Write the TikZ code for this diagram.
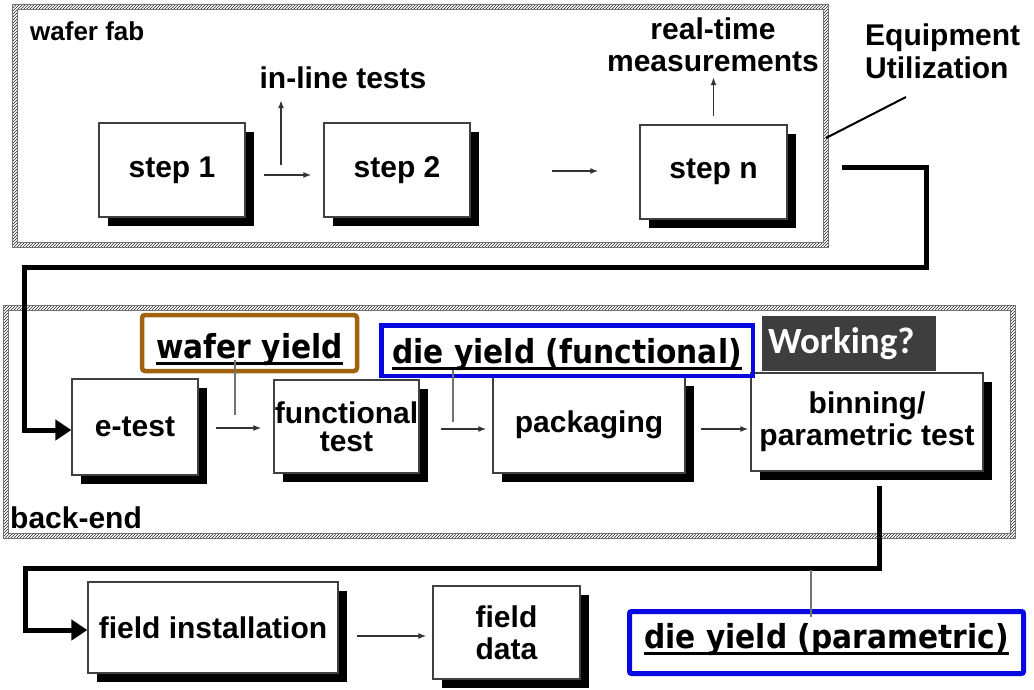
\documentclass[tikz,border=0pt]{standalone}
\usepackage{fontspec}
\setmainfont{Liberation Sans}
\newfontfamily\yieldfont[FakeStretch=0.9]{DejaVu Sans}
\newfontfamily\askfont{Carlito}
\usetikzlibrary{arrows.meta,shadows,patterns}

\definecolor{waferbrown}{RGB}{160,98,12}
\definecolor{yieldblue}{RGB}{8,8,225}
\definecolor{askgray}{RGB}{62,62,62}

% underlined yield label, thick rule under the baseline
\newsavebox{\ulbox}
\newcommand{\yieldul}[1]{\sbox{\ulbox}{#1}\rlap{\rule[-7pt]{\wd\ulbox}{3pt}}\usebox{\ulbox}}

\tikzset{
    procbox/.style={draw=black!75, line width=1.2pt, fill=white, align=center, inner sep=0pt,
        drop shadow={shadow xshift=9pt, shadow yshift=-9pt, fill=black, opacity=1}},
    frame/.style={inner sep=0pt, outer sep=0pt},
    flow/.style={draw=black!80, line width=1.5pt, -{Latex[length=8pt,width=6pt]}},
    bigflow/.style={line width=5pt, -{Triangle[length=16pt,width=20pt]}},
    leader/.style={draw=black!55, line width=1.5pt},
    yieldbox/.style={line width=4.5pt, inner sep=0pt,
        font=\yieldfont\bfseries\fontsize{33}{36}\selectfont},
}

\begin{document}
\begin{tikzpicture}[x=1pt,y=-1pt,font=\fontsize{30}{32}\selectfont\bfseries]
    \path[use as bounding box, fill=white] (0,0) rectangle (1034,690);

    % Hatched frame macro:
    % #1 = node name of the frame
    \newcommand{\hatchframe}[1]{%
        \fill[pattern=north east lines, pattern color=black!85, even odd rule]
            (#1.north west) rectangle (#1.south east)
            ([shift={(5,5)}]#1.north west) rectangle ([shift={(-5,-5)}]#1.south east);
        \draw[black!55, line width=0.8pt] (#1.north west) rectangle (#1.south east);
        \draw[black!55, line width=0.8pt]
            ([shift={(5,5)}]#1.north west) rectangle ([shift={(-5,-5)}]#1.south east);
    }

    % frames
    \node[frame, minimum width=816pt, minimum height=243pt] (fab) at (420,125.5) {};
    \node[frame, minimum width=1012pt, minimum height=233pt] (back) at (509,421.5) {};
    \hatchframe{fab}
    \hatchframe{back}

    % frame labels
    \node[anchor=west, inner sep=0pt, font=\fontsize{26}{28}\selectfont\bfseries] (fablbl) at (30,31) {wafer fab};
    \node[anchor=west, inner sep=0pt] (backlbl) at (10,517.5) {back-end};

    % wafer fab steps
    \node[procbox, minimum width=146pt, minimum height=94pt] (s1) at (172,170) {step 1};
    \node[procbox, minimum width=146pt, minimum height=94pt] (s2) at (397,170) {step 2};
    \node[procbox, minimum width=147pt, minimum height=94pt] (sn) at (713.5,172) {step n};

    % back-end steps
    \node[procbox, minimum width=126pt, minimum height=96pt] (et) at (135,427) {e-test};
    \node[procbox, minimum width=145pt, minimum height=93pt, font=\fontsize{30}{28}\selectfont\bfseries] (ft) at (346.5,426.5) {functional\\test};
    \node[procbox, minimum width=192pt, minimum height=96pt] (pk) at (589,425) {packaging};
    \node[procbox, minimum width=232pt, minimum height=98pt] (bn) at (867,422) {binning/\\parametric test};

    % field
    \node[procbox, minimum width=250pt, minimum height=91pt] (fi) at (213,627.5) {field installation};
    \node[procbox, minimum width=147pt, minimum height=93pt] (fd) at (506.5,632.5) {field\\data};

    % measurement labels
    \node[inner sep=0pt] (il) at (343,78) {in-line tests};
    \node[inner sep=0pt, align=center] (rt) at (713,45) {real-time\\measurements};
    \node[anchor=north west, inner sep=0pt, align=left, font=\fontsize{30}{33}\selectfont\bfseries] (eu) at (865,23.5) {Equipment\\Utilization};

    % thin flow arrows
    \foreach \from/\to/\dy/\gapa/\gapb in {s1/s2/-5/18/12, s2/sn/-1/81/41, et/ft/-1/17/12,
                                          ft/pk/-2.5/21/6, pk/bn/-4/15/2, fi/fd/-8.5/18/6} {
        \draw[flow, shorten <=\gapa pt, shorten >=\gapb pt]
            ([yshift=\dy pt]\from.east) -- ([yshift=\dy pt]\from.east -| \to.west);
    }

    % measurement arrows
    \coordinate (ilfoot) at (281,165);
    \draw[flow, shorten >=11pt] (ilfoot) -- (ilfoot |- il.south);
    \draw[flow, shorten <=8pt, shorten >=5pt] (sn.north) -- (sn.north |- rt.south);

    % equipment utilization pointer
    \coordinate (eutail) at (906,97);
    \coordinate (euhead) at (826,138);
    \draw[line width=2pt] (eutail) -- (euhead);

    % thick flow between stages
    \draw[bigflow] ([xshift=54pt,yshift=4pt]sn.east) -| (926,267)
        -| ([xshift=-47pt,yshift=-3pt]et.west) -- ([yshift=-3pt]et.west);
    \draw[bigflow] ([xshift=12pt,yshift=-14pt]bn.south) |- (25,568)
        |- ([yshift=-2.5pt]fi.west);

    % yield labels
    \node[yieldbox, draw=waferbrown, rounded corners=3pt, minimum width=215pt, minimum height=56pt,
        text height=32pt, text depth=2pt] (wy) at (249.5,343) {\yieldul{wafer yield}};
    \node[yieldbox, draw=yieldblue, minimum width=371.5pt, minimum height=50.5pt,
        text height=27pt, text depth=2pt] (dyf) at (567,350.5) {\yieldul{die yield (functional)}};
    \node[yieldbox, draw=yieldblue, line width=5pt, rounded corners=2pt, minimum width=394pt, minimum height=62pt,
        text height=24pt, text depth=13pt] (dyp) at (826.5,642.5) {\yieldul{die yield (parametric)}};
    \node[fill=askgray, text=white, inner ysep=0pt, inner xsep=6pt, text width=162pt, align=left,
        minimum height=55pt, font=\askfont\bfseries\fontsize{37}{38}\selectfont] (ask) at (849,343.5) {Working?};

    % yield leaders
    \coordinate (wyfoot) at (235,415);
    \draw[leader, shorten >=-13pt] (wyfoot) -- (wyfoot |- wy.south);
    \coordinate (dyffoot) at (453,422);
    \draw[leader, shorten >=-8pt] (dyffoot) -- (dyffoot |- dyf.south);
    \coordinate (dypjoin) at (811,570);
    \draw[leader, shorten >=-8pt] (dypjoin) -- (dypjoin |- dyp.north);
\end{tikzpicture}
\end{document}
